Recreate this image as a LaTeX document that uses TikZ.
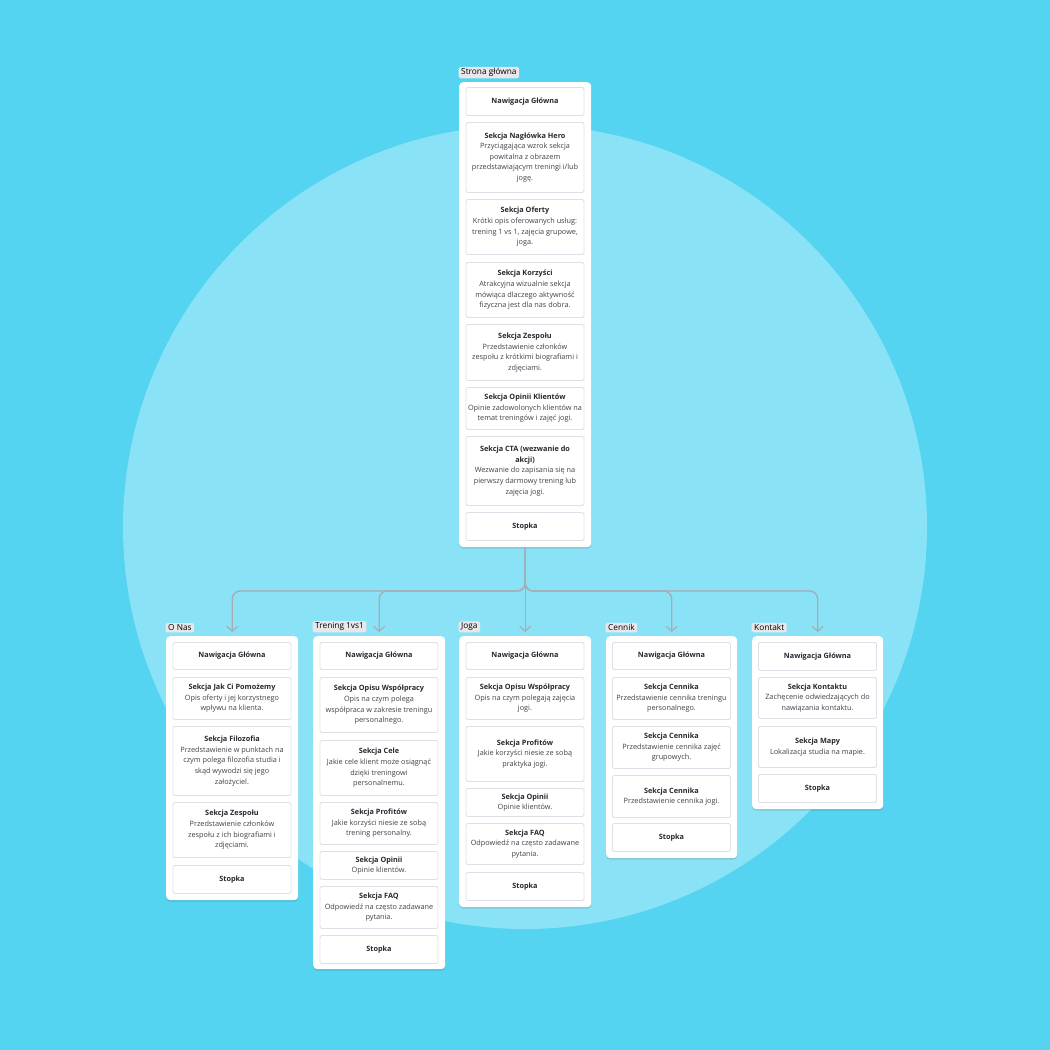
\documentclass[tikz,border=0pt]{standalone}
\usepackage{fontspec}
\setmainfont{Open Sans}
\usetikzlibrary{arrows.meta,shadows}
\definecolor{bgcol}{RGB}{84,212,240}
\definecolor{circcol}{RGB}{138,226,246}
\definecolor{cardline}{RGB}{224,222,230}
\definecolor{tagfill}{RGB}{232,232,236}
\definecolor{titlecol}{RGB}{40,40,46}
\definecolor{bodycol}{RGB}{64,64,72}
\definecolor{conncol}{RGB}{170,170,178}
\newcommand\ttl[1]{{\bfseries\color{titlecol}#1}}
\newcommand\mycard[5]{\node[card, anchor=north, minimum height={#4-#3}] (#1) at (#2,#3) {#5};}
\newcommand\mybox[6]{%
  \node[container, anchor=north west, minimum width={#4-#2}, minimum height={#5-#3}] (#1) at (#2,#3) {};
  \node[tag, anchor=south west] (#1tag) at ({#2-0.5},{#3-3.5}) {#6};}
\begin{document}
\begin{tikzpicture}[x=1pt,y=-1pt,
  card/.style={draw=cardline, line width=0.9pt, fill=white, rounded corners=1.5pt, minimum width=118pt, inner sep=0pt, align=center,
    font=\fontsize{7.3}{10.6}\selectfont, text=bodycol},
  container/.style={fill=white, rounded corners=4pt, inner sep=0pt,
    drop shadow={shadow xshift=0pt, shadow yshift=-1.5pt, opacity=0.12, fill=black}},
  tag/.style={fill=tagfill, rounded corners=1.5pt, inner xsep=2.5pt, inner ysep=1.5pt, font=\fontsize{8.3}{9}\selectfont, text=black},
  conn/.style={draw=conncol, line width=1.3pt, rounded corners=8pt, -{Straight Barb[length=5pt,width=11pt,line width=1.1pt]}, shorten >=4pt}
]
\useasboundingbox (0,0) rectangle (1050,1050);
\fill[bgcol] (0,0) rectangle (1050,1050);
\fill[circcol] (525,527) circle[radius=402];

% ---------- main page ----------
\mybox{main}{459}{82}{591}{547}{Strona główna}
\mycard{m1}{525}{87}{115}{\ttl{Nawigacja Główna}}
\mycard{m2}{525}{122}{192}{\ttl{Sekcja Nagłówka Hero}\\Przyciągająca wzrok sekcja\\powitalna z obrazem\\przedstawiającym treningi i/lub\\jogę.}
\mycard{m3}{525}{199}{254}{\ttl{Sekcja Oferty}\\Krótki opis oferowanych usług:\\trening 1 vs 1, zajęcia grupowe,\\joga.}
\mycard{m4}{525}{262}{317}{\ttl{Sekcja Korzyści}\\Atrakcyjna wizualnie sekcja\\mówiąca dlaczego aktywność\\fizyczna jest dla nas dobra.}
\mycard{m5}{525}{324}{380}{\ttl{Sekcja Zespołu}\\Przedstawienie członków\\zespołu z krótkimi biografiami i\\zdjęciami.}
\mycard{m6}{525}{387}{429}{\ttl{Sekcja Opinii Klientów}\\Opinie zadowolonych klientów na\\temat treningów i zajęć jogi.}
\mycard{m7}{525}{436}{505}{\ttl{Sekcja CTA (wezwanie do}\\\ttl{akcji)}\\Wezwanie do zapisania się na\\pierwszy darmowy trening lub\\zajęcia jogi.}
\mycard{m8}{525}{512}{540}{\ttl{Stopka}}

% ---------- O Nas ----------
\mybox{onas}{166}{636}{298}{900}{O Nas}
\mycard{a1}{232}{642}{669}{\ttl{Nawigacja Główna}}
\mycard{a2}{232}{677}{719}{\ttl{Sekcja Jak Ci Pomożemy}\\Opis oferty i jej korzystnego\\wpływu na klienta.}
\mycard{a3}{232}{726}{795}{\ttl{Sekcja Filozofia}\\Przedstawienie w punktach na\\czym polega filozofia studia i\\skąd wywodzi się jego\\założyciel.}
\mycard{a4}{232}{802}{857}{\ttl{Sekcja Zespołu}\\Przedstawienie członków\\zespołu z ich biografiami i\\zdjęciami.}
\mycard{a5}{232}{865}{893}{\ttl{Stopka}}

% ---------- Trening 1vs1 ----------
\mybox{tren}{313}{636}{445}{969}{Trening 1vs1}
\mycard{b1}{379}{642}{669}{\ttl{Nawigacja Główna}}
\mycard{b2}{379}{677}{732}{\ttl{Sekcja Opisu Współpracy}\\Opis na czym polega\\współpraca w zakresie treningu\\personalnego.}
\mycard{b3}{379}{740}{795}{\ttl{Sekcja Cele}\\Jakie cele klient może osiągnąć\\dzięki treningowi\\personalnemu.}
\mycard{b4}{379}{802}{844}{\ttl{Sekcja Profitów}\\Jakie korzyści niesie ze sobą\\trening personalny.}
\mycard{b5}{379}{851}{879}{\ttl{Sekcja Opinii}\\Opinie klientów.}
\mycard{b6}{379}{886}{928}{\ttl{Sekcja FAQ}\\Odpowiedź na często zadawane\\pytania.}
\mycard{b7}{379}{935}{963}{\ttl{Stopka}}

% ---------- Joga ----------
\mybox{joga}{459}{636}{591}{907}{Joga}
\mycard{c1}{525}{642}{669}{\ttl{Nawigacja Główna}}
\mycard{c2}{525}{677}{719}{\ttl{Sekcja Opisu Współpracy}\\Opis na czym polegają zajęcia\\jogi.}
\mycard{c3}{525}{726}{781}{\ttl{Sekcja Profitów}\\Jakie korzyści niesie ze sobą\\praktyka jogi.}
\mycard{c4}{525}{788}{816}{\ttl{Sekcja Opinii}\\Opinie klientów.}
\mycard{c5}{525}{823}{864}{\ttl{Sekcja FAQ}\\Odpowiedź na często zadawane\\pytania.}
\mycard{c6}{525}{872}{900}{\ttl{Stopka}}

% ---------- Cennik ----------
\mybox{cen}{606}{636}{737}{858}{Cennik}
\mycard{d1}{671.5}{642}{669}{\ttl{Nawigacja Główna}}
\mycard{d2}{671.5}{677}{719}{\ttl{Sekcja Cennika}\\Przedstawienie cennika treningu\\personalnego.}
\mycard{d3}{671.5}{726}{768}{\ttl{Sekcja Cennika}\\Przedstawienie cennika zajęć\\grupowych.}
\mycard{d4}{671.5}{775}{817}{\ttl{Sekcja Cennika}\\Przedstawienie cennika jogi.}
\mycard{d5}{671.5}{823}{851}{\ttl{Stopka}}

% ---------- Kontakt ----------
\mybox{kon}{752}{636}{883}{809}{Kontakt}
\mycard{e1}{817.5}{642}{670}{\ttl{Nawigacja Główna}}
\mycard{e2}{817.5}{677}{718}{\ttl{Sekcja Kontaktu}\\Zachęcenie odwiedzających do\\nawiązania kontaktu.}
\mycard{e3}{817.5}{726}{767}{\ttl{Sekcja Mapy}\\Lokalizacja studia na mapie.}
\mycard{e4}{817.5}{774}{802}{\ttl{Stopka}}

% ---------- connectors ----------
\coordinate (bus) at (525,591);
\draw[conn] (main.south) -- (main.south |- bus) -| (onas.north);
\draw[conn] (main.south) -- (main.south |- bus) -| (tren.north);
\draw[conn] (main.south) -- (joga.north);
\draw[conn] (main.south) -- (main.south |- bus) -| (cen.north);
\draw[conn] (main.south) -- (main.south |- bus) -| (kon.north);
\end{tikzpicture}
\end{document}
